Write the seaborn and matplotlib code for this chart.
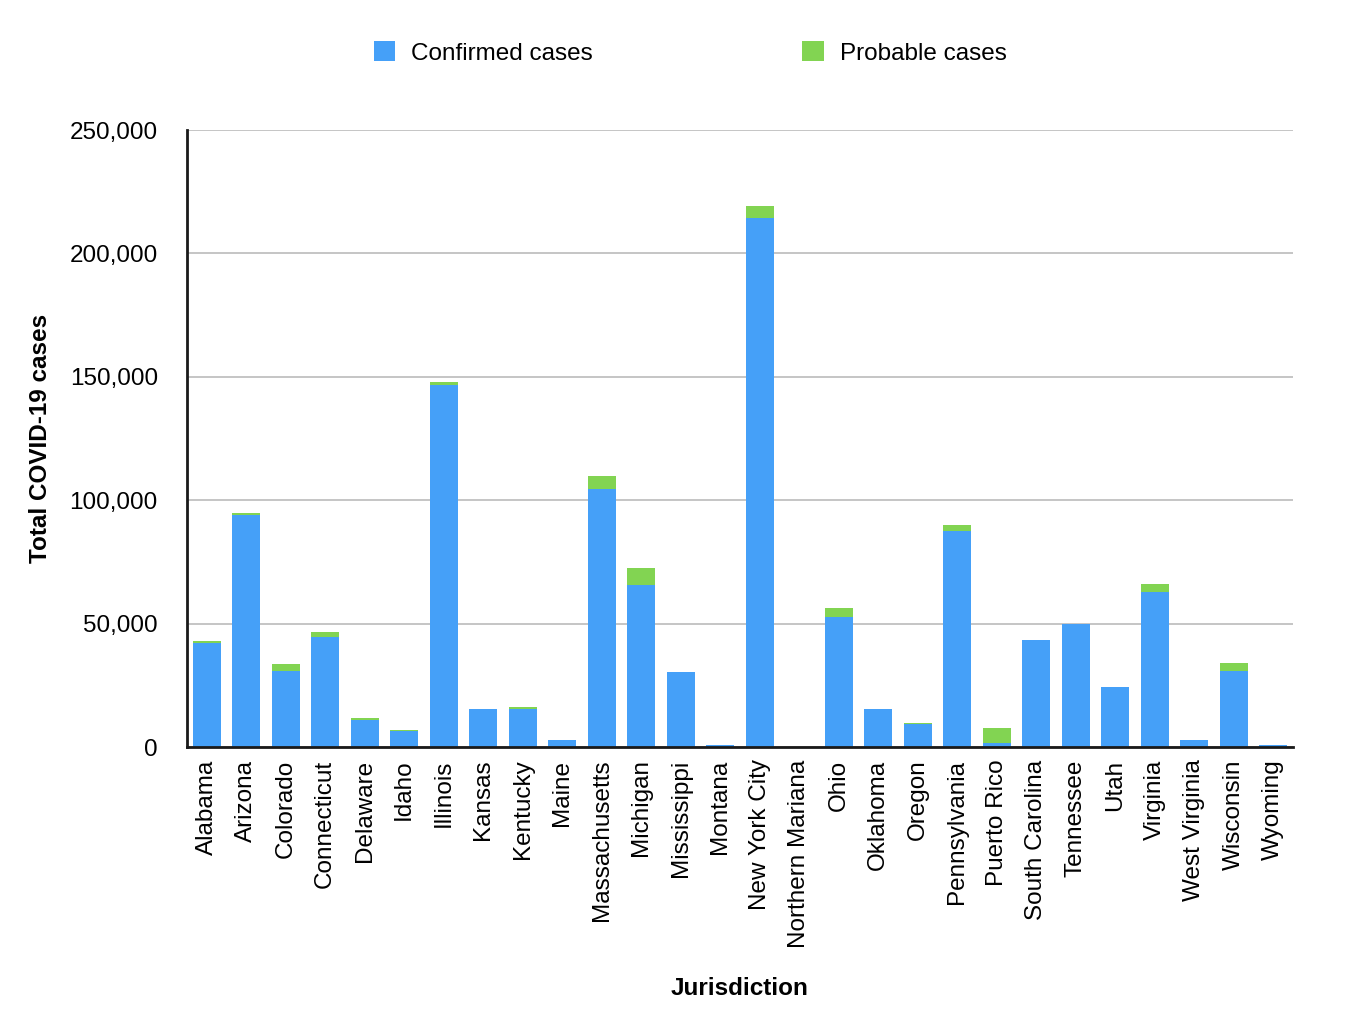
import matplotlib
matplotlib.use("Agg")
import matplotlib.pyplot as plt
import matplotlib.ticker as mticker
from matplotlib.patches import Patch
import seaborn as sns
import pandas as pd

jurisdictions = ["Alabama", "Arizona", "Colorado", "Connecticut", "Delaware", "Idaho",
                 "Illinois", "Kansas", "Kentucky", "Maine", "Massachusetts", "Michigan",
                 "Mississippi", "Montana", "New York City", "Northern Mariana", "Ohio",
                 "Oklahoma", "Oregon", "Pennsylvania", "Puerto Rico", "South Carolina",
                 "Tennessee", "Utah", "Virginia", "West Virginia", "Wisconsin", "Wyoming"]
confirmed = [42300, 94000, 30900, 44700, 11000, 6500,
             146700, 15500, 15500, 2800, 104500, 65500,
             30500, 900, 214200, 20, 52500,
             15500, 9400, 87400, 1500, 43500,
             49700, 24400, 63000, 2700, 30900, 900]
probable = [500, 700, 2850, 2000, 800, 400,
            1300, 0, 800, 0, 5250, 6900,
            0, 0, 4900, 0, 3650,
            0, 400, 2450, 6200, 0,
            0, 0, 2850, 0, 3250, 0]

df = pd.DataFrame({"Jurisdiction": jurisdictions,
                   "Confirmed": confirmed,
                   "Probable": probable})
df["Total"] = df["Confirmed"] + df["Probable"]

blue = "#45A0F8"
green = "#82D452"

sns.set_style("white")
plt.rcParams["font.family"] = ["Liberation Sans", "DejaVu Sans"]
plt.rcParams["text.color"] = "black"
plt.rcParams["axes.labelcolor"] = "black"
plt.rcParams["xtick.color"] = "black"
plt.rcParams["ytick.color"] = "black"

fig = plt.figure(figsize=(13.56, 10.24), dpi=100)
ax = fig.add_axes([187/1356, 1 - 747/1024, (1293-187)/1356, (747-130)/1024])

sns.barplot(data=df, x="Jurisdiction", y="Total", color=green, saturation=1,
            width=0.71, ax=ax, errorbar=None, linewidth=0, edgecolor="none", zorder=2)
sns.barplot(data=df, x="Jurisdiction", y="Confirmed", color=blue, saturation=1,
            width=0.71, ax=ax, errorbar=None, linewidth=0, edgecolor="none", zorder=3)

ax.set_xlim(-0.5, len(jurisdictions) - 0.5)
ax.set_ylim(0, 250000)
ax.set_yticks([0, 50000, 100000, 150000, 200000, 250000])
ax.yaxis.set_major_formatter(mticker.FuncFormatter(lambda v, p: f"{int(v):,}"))
ax.grid(axis="y", color="#BBBBBB", linewidth=1.2, zorder=0)
ax.set_axisbelow(True)

for s in ["top", "right"]:
    ax.spines[s].set_visible(False)
for s, lw in [("left", 2), ("bottom", 2)]:
    ax.spines[s].set_color("#1a1a1a")
    ax.spines[s].set_linewidth(lw)
    ax.spines[s].set_zorder(5)

ax.tick_params(axis="x", labelrotation=90, labelsize=17.5, length=0, pad=9)
ax.tick_params(axis="y", labelsize=17.5, length=0, pad=21)

ax.set_xlabel("Jurisdiction", fontsize=17.5, fontweight="bold", labelpad=21)
ax.set_ylabel("Total COVID-19 cases", fontsize=17.5, fontweight="bold", labelpad=13)

handles = [Patch(facecolor=blue, edgecolor="none", label="Confirmed cases"),
           Patch(facecolor=green, edgecolor="none", label="Probable cases")]
fig.legend(handles=handles, loc="center", bbox_to_anchor=(690/1356, 1 - 53/1024),
           ncol=2, frameon=False, fontsize=17.5, handlelength=0.9, handleheight=0.9,
           handletextpad=0.65, columnspacing=8.6)

fig.savefig("out.png", dpi=100)
